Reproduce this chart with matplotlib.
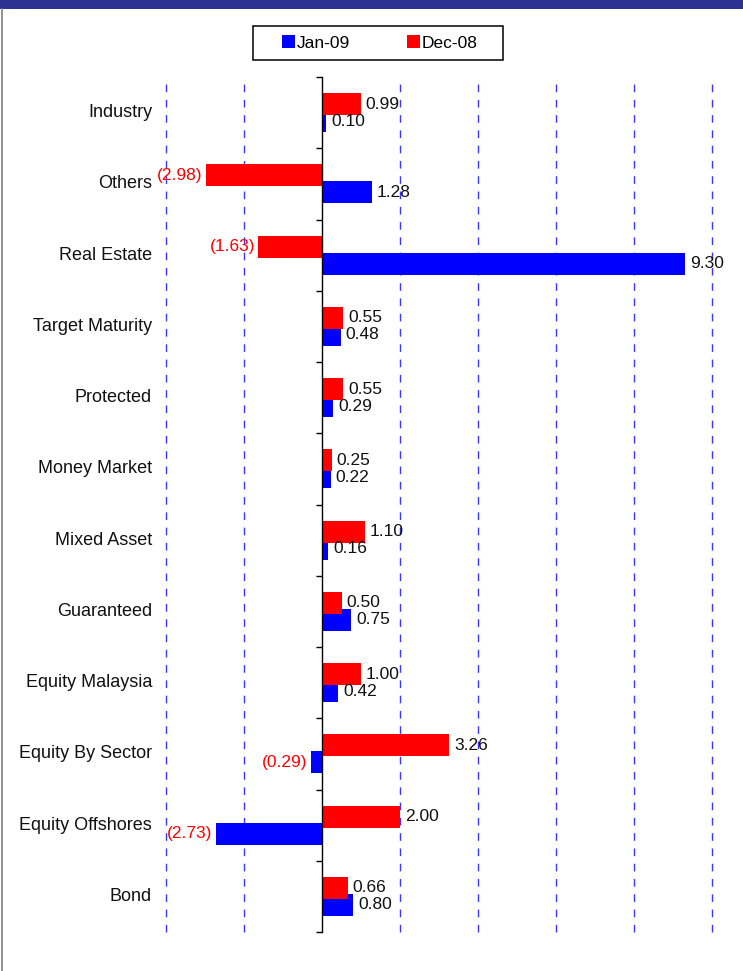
import matplotlib
matplotlib.use('Agg')
import matplotlib.pyplot as plt
from matplotlib.patches import Rectangle
from matplotlib.lines import Line2D
import numpy as np

categories = ["Industry", "Others", "Real Estate", "Target Maturity", "Protected",
              "Money Market", "Mixed Asset", "Guaranteed", "Equity Malaysia",
              "Equity By Sector", "Equity Offshores", "Bond"]
jan09 = [0.10, 1.28, 9.30, 0.48, 0.29, 0.22, 0.16, 0.75, 0.42, -0.29, -2.73, 0.80]
dec08 = [0.99, -2.98, -1.63, 0.55, 0.55, 0.25, 1.10, 0.50, 1.00, 3.26, 2.00, 0.66]
series_names = ["Jan-09", "Dec-08"]
grid_ticks = [-4, -2, 2, 4, 6, 8, 10]
x_range = (-4, 10)

plt.rcParams['font.family'] = ['Liberation Sans', 'DejaVu Sans']

W, H = 743, 971
fig = plt.figure(figsize=(W / 100, H / 100), dpi=100)


def fx(px):
    return px / W


def fy(py):
    return 1 - py / H


# top banner and left border
fig.patches.append(Rectangle((0, fy(9.5)), 1, 9.5 / H, transform=fig.transFigure,
                             facecolor='#2E3192', edgecolor='none', zorder=0))
fig.lines.append(Line2D([fx(1.5), fx(1.5)], [0, fy(9.5)], transform=fig.transFigure,
                        color='#7f7f7f', lw=1.2))

ax = fig.add_axes([fx(166), fy(932), fx(712) - fx(166), fy(77) - fy(932)])
y = np.arange(len(categories))
off, h = 0.12, 0.31
bb = ax.barh(y + off, jan09, height=h, color='#0000FF', zorder=2, label=series_names[0])
br = ax.barh(y - off, dec08, height=h, color='#FF0000', zorder=3, label=series_names[1])

ax.set_xlim(*x_range)
ax.set_ylim(len(categories) - 0.5, -0.5)
for s in ['top', 'right', 'bottom']:
    ax.spines[s].set_visible(False)
ax.spines['left'].set_position(('data', 0))
ax.spines['left'].set_zorder(4)
ax.spines['left'].set_linewidth(1.0)

ax.set_xticks(grid_ticks)
ax.tick_params(axis='x', length=0, labelbottom=False)
ax.xaxis.grid(True, color='#3838FF', linestyle=(0, (5.5, 5.5)), linewidth=1.0)
ax.set_axisbelow(True)
for gl in ax.get_xgridlines():
    gl.set_clip_on(False)

ax.set_yticks(y)
ax.set_yticklabels([])
ax.tick_params(axis='y', which='major', length=0)
ax.set_yticks(np.arange(-0.5, len(categories)), minor=True)
ax.tick_params(axis='y', which='minor', length=4, width=1, direction='out', color='black')

for i, c in enumerate(categories):
    ax.annotate(c, xy=(0, i), xycoords=('axes fraction', 'data'), xytext=(-10, 0),
                textcoords='offset points', ha='right', va='center', fontsize=13,
                color='#111111')


def fmt(v):
    return f"{v:.2f}" if v >= 0 else f"({abs(v):.2f})"


for bars, vals in ((bb, jan09), (br, dec08)):
    for rect, v in zip(bars, vals):
        yc = rect.get_y() + rect.get_height() / 2
        if v >= 0:
            ax.annotate(fmt(v), xy=(v, yc), xytext=(3.6, 0), textcoords='offset points',
                        ha='left', va='center', fontsize=12.5, color='#111111', zorder=6)
        else:
            ax.annotate(fmt(v), xy=(v, yc), xytext=(-2.5, 0), textcoords='offset points',
                        ha='right', va='center', fontsize=12.5, color='#FF0000', zorder=6)

# legend
fig.patches.append(Rectangle((fx(253), fy(60)), fx(503) - fx(253), 34 / H,
                             transform=fig.transFigure, facecolor='white',
                             edgecolor='black', lw=1.1, zorder=1))
leg = fig.legend(handles=[bb, br], labels=series_names, loc='center',
                 bbox_to_anchor=(fx(380), fy(43)), ncol=2, frameon=False, fontsize=12.5,
                 handlelength=0.75, handleheight=0.75, handletextpad=0.1,
                 columnspacing=3.3)
leg.set_zorder(5)

fig.savefig('out.png', dpi=100)
